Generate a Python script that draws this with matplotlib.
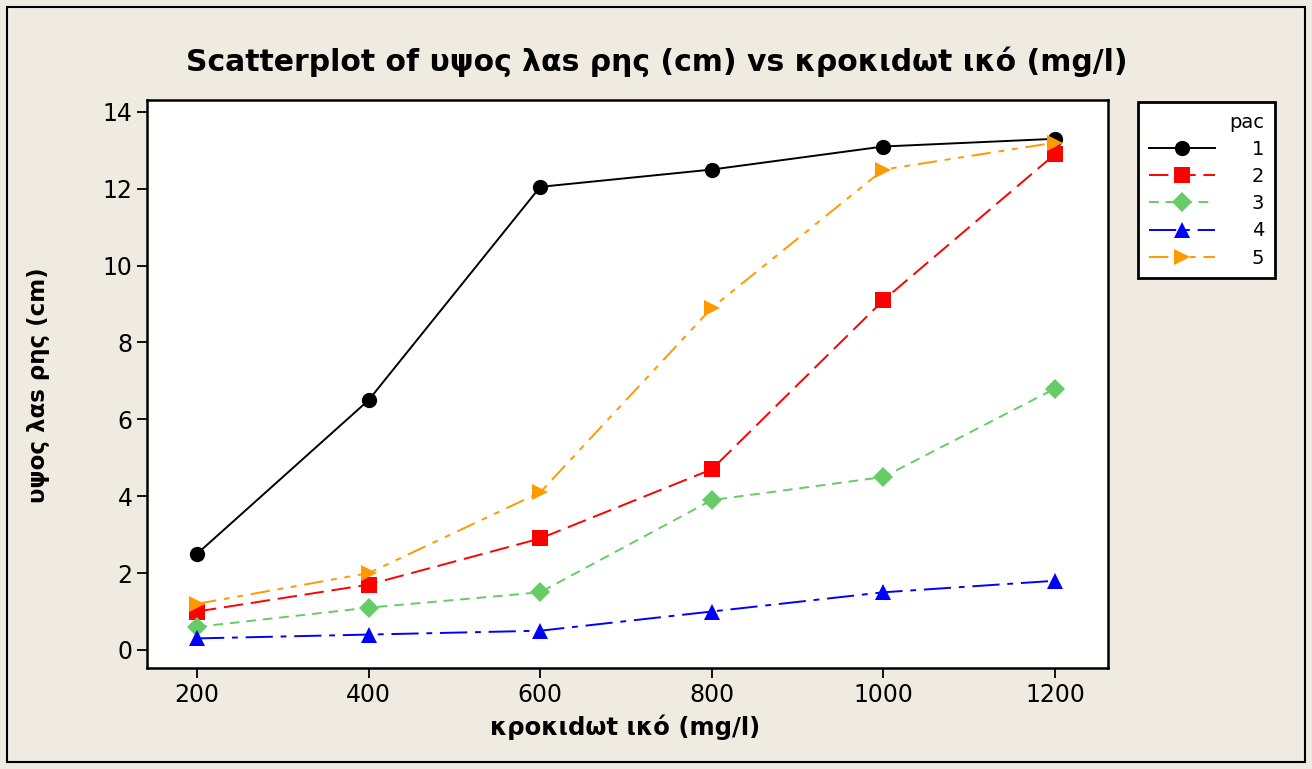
import matplotlib
matplotlib.use("Agg")
import matplotlib.pyplot as plt
from matplotlib.patches import Rectangle

# данні
doses = [200, 400, 600, 800, 1000, 1200]
pac_labels = ['1', '2', '3', '4', '5']
pac1 = [2.5, 6.5, 12.05, 12.5, 13.1, 13.3]
pac2 = [1.0, 1.7, 2.9, 4.7, 9.1, 12.9]
pac3 = [0.6, 1.1, 1.5, 3.9, 4.5, 6.8]
pac4 = [0.3, 0.4, 0.5, 1.0, 1.5, 1.8]
pac5 = [1.2, 2.0, 4.1, 8.9, 12.5, 13.2]
series = [pac1, pac2, pac3, pac4, pac5]

title = 'Scatterplot of υψος λαs ρης (cm) vs κροκιdωt ικό (mg/l)'
xlab = 'κροκιdωt ικό (mg/l)'
ylab = 'υψος λαs ρης (cm)'

colors = ['black', '#ff0000', '#66cc66', '#0000ff', '#ff9900']
markers = ['o', 's', 'D', '^', '>']
msizes = [11, 11, 10, 11, 12]
dashes = [None, (10, 4), (5, 3.5), (14, 4, 3, 4), (10, 4, 3, 4, 3, 4)]

bg = '#efebe1'
plt.rcParams['font.family'] = ['DejaVu Sans']

fig = plt.figure(figsize=(13.12, 7.69), dpi=100, facecolor=bg)
ax = fig.add_axes([147/1312, 1 - 668/769, (1108-147)/1312, (668-100)/769])
ax.set_facecolor('white')

for i, ys in enumerate(series):
    line, = ax.plot(doses, ys, color=colors[i], marker=markers[i], markersize=msizes[i],
                    lw=1.4, label=pac_labels[i], markeredgewidth=0)
    if dashes[i] is not None:
        line.set_dashes(dashes[i])

ax.set_xlim(141.7, 1261.8)
ax.set_ylim(-0.47, 14.31)
ax.set_xticks(doses)
ax.set_yticks(range(0, 15, 2))
ax.tick_params(labelsize=17, length=7, width=1.3, color='black')
for s in ax.spines.values():
    s.set_linewidth(1.8)

ax.set_xlabel(xlab, fontsize=17.5, fontweight='bold')
ax.set_ylabel(ylab, fontsize=16.5, fontweight='bold')
ax.xaxis.set_label_coords((625 - 147) / 961, (668 - 714) / 568)
ax.yaxis.set_label_coords((50 - 147) / 961, (668 - 385) / 568)
fig.text(657 / 1312, 1 - 62/769, title, ha='center', va='center', fontsize=21.5, fontweight='bold')

leg = ax.legend(title='pac', loc='upper left', bbox_to_anchor=(1138/1312, 1 - 102/769),
                bbox_transform=fig.transFigure, fontsize=14, title_fontsize=14,
                frameon=True, fancybox=False, edgecolor='black', facecolor='white', framealpha=1,
                handlelength=3.4, handletextpad=1.9, labelspacing=0.42, borderpad=0.55,
                borderaxespad=0)
leg.get_frame().set_linewidth(2)
leg._legend_box.align = 'right'

fig.patches.append(Rectangle((7/1312, 1 - 762/769), 1298/1312, 755/769, transform=fig.transFigure,
                             fill=False, edgecolor='black', lw=1.5))

fig.savefig('out.png', dpi=100, facecolor=bg)
